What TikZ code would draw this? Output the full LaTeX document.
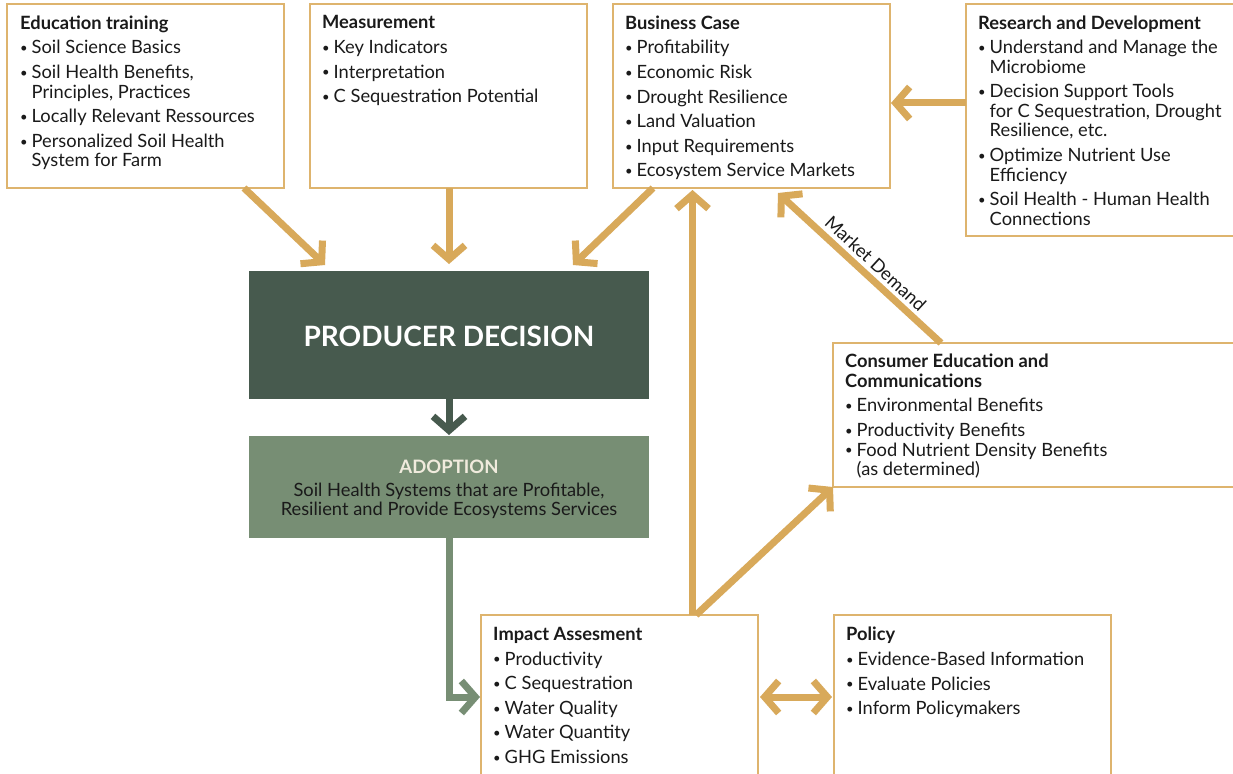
\documentclass[tikz,border=0pt]{standalone}
\usepackage{fontspec}
\setmainfont{Lato}
\usetikzlibrary{arrows.meta,calc}
\definecolor{tanc}{HTML}{D8A95A}
\definecolor{boxline}{HTML}{DEB46E}
\definecolor{darkgreen}{HTML}{475A4E}
\definecolor{midgreen}{HTML}{778E74}
\definecolor{ink}{HTML}{1A1A1A}
\definecolor{paleword}{HTML}{F0EBDD}
\newcommand{\blt}{\makebox[11.5pt][l]{\raisebox{1.2pt}{\fontsize{13}{13}\selectfont•}}}
\newcommand{\ind}{\hspace*{11.5pt}}
\newcommand{\gp}{\\[5.1pt]}
\tikzset{
  panel/.style={draw=boxline, line width=1.5pt, fill=white, anchor=north west, inner sep=0pt, outer sep=0pt},
  panetext/.style={anchor=north west, inner sep=0pt, align=left, font=\fontsize{18.3}{19.5}\selectfont, text=ink},
  block/.style={anchor=north west, inner sep=0pt, outer sep=0pt, draw=none},
  flow/.style={draw=tanc, line width=7pt, -{Straight Barb[length=14pt,width=32pt]}},
  twoflow/.style={draw=tanc, line width=7pt, {Straight Barb[length=14pt,width=32pt]}-{Straight Barb[length=14pt,width=32pt]}},
  gflow/.style={draw=darkgreen, line width=7pt, -{Straight Barb[length=14pt,width=32pt]}},
  mflow/.style={draw=midgreen, line width=7pt, line join=miter, -{Straight Barb[length=14pt,width=32pt]}},
}
\begin{document}
\begin{tikzpicture}[x=1pt,y=-1pt]
\clip (0,0) rectangle (1233,773);
\fill[white] (0,0) rectangle (1233,773);

% boxes
\node[panel, minimum width=277pt, minimum height=184pt] (edu) at (7,4) {};
\node[panel, minimum width=277pt, minimum height=184pt] (meas) at (310,4) {};
\node[panel, minimum width=277pt, minimum height=184pt] (bus) at (613,4) {};
\node[panel, minimum width=300pt, minimum height=232pt] (res) at (966,4) {};
\node[panel, minimum width=420pt, minimum height=144pt] (cons) at (833,343) {};
\node[panel, minimum width=277pt, minimum height=200pt] (imp) at (481,615) {};
\node[panel, minimum width=277pt, minimum height=200pt] (pol) at (834,615) {};
\node[block, fill=darkgreen, minimum width=400pt, minimum height=128pt] (prod) at (249,271) {};
\node[block, fill=midgreen, minimum width=400pt, minimum height=102pt] (adopt) at (249,436) {};

% box texts
\node[panetext] (edut) at (20,15.5) {\textbf{Education training}\gp
\blt Soil Science Basics\gp
\blt Soil Health Benefits,\\ \ind Principles, Practices\gp
\blt Locally Relevant Ressources\gp
\blt Personalized Soil Health\\ \ind System for Farm};

\node[panetext] (meast) at (322,15.5) {\textbf{Measurement}\gp
\blt Key Indicators\gp
\blt Interpretation\gp
\blt C Sequestration Potential};

\node[panetext] (bust) at (625,15.5) {\textbf{Business Case}\gp
\blt Profitability\gp
\blt Economic Risk\gp
\blt Drought Resilience\gp
\blt Land Valuation\gp
\blt Input Requirements\gp
\blt Ecosystem Service Markets};

\node[panetext] (rest) at (978,15.5) {\textbf{Research and Development}\gp
\blt Understand and Manage the\\ \ind Microbiome\gp
\blt Decision Support Tools\\ \ind for C Sequestration, Drought\\ \ind Resilience, etc.\gp
\blt Optimize Nutrient Use\\ \ind Efficiency\gp
\blt Soil Health - Human Health\\ \ind Connections};

\node[panetext] (const) at (845,354) {\textbf{Consumer Education and}\\ \textbf{Communications}\gp
\blt Environmental Benefits\gp
\blt Productivity Benefits\\[0pt]
\blt Food Nutrient Density Benefits\\ \ind (as determined)};

\node[panetext] (impt) at (493,627) {\textbf{Impact Assesment}\gp
\blt Productivity\gp
\blt C Sequestration\gp
\blt Water Quality\gp
\blt Water Quantity\gp
\blt GHG Emissions};

\node[panetext] (polt) at (846,627) {\textbf{Policy}\gp
\blt Evidence-Based Information\gp
\blt Evaluate Policies\gp
\blt Inform Policymakers};

\node[text=white, font=\fontsize{28}{32}\selectfont\bfseries, inner sep=0pt] (prodt) at (449,336) {PRODUCER DECISION};
\node[text=paleword, font=\fontsize{18.5}{20}\selectfont\bfseries, inner sep=0pt] (adoptt) at (449,467) {ADOPTION};
\node[text=ink, font=\fontsize{18.3}{19.5}\selectfont, align=center, inner sep=0pt] (adoptb) at (449,501) {Soil Health Systems that are Profitable,\\ Resilient and Provide Ecosystems Services};

% connectors
\draw[flow] ($(edu.south west)+(237,0)$) -- ($(prod.north west)+(76,-6)$);
\draw[flow] ($(meas.south west)+(139,0)$) -- ($(prod.north west)+(200,-7)$);
\draw[flow] ($(bus.south west)+(40,0)$) -- ($(prod.north west)+(324,-6)$);
\draw[flow] ($(res.north west)+(0,99)$) -- ($(bus.north east)+(1,99)$);
\draw[flow] ($(imp.north west)+(211.5,0)$) -- ($(bus.south west)+(79.5,2)$);
\draw[flow] ($(imp.north west)+(215,0)$) -- (cons.south west);
\draw[flow] ($(cons.north west)+(108,0)$) -- node[pos=0.46, sloped, above=4pt, font=\fontsize{18.2}{19}\selectfont, text=ink, inner sep=0pt] (mdl) {Market Demand} ($(bus.south west)+(165,5)$);
\draw[twoflow] ($(imp.north east)+(2,82)$) -- ($(pol.north west)+(-2,82)$);
\draw[gflow] (prod.south) -- ($(adopt.north)+(0,-1)$);
\draw[mflow] ($(adopt.south west)+(200.5,0)$) |- ($(imp.north west)+(-1,82)$);
\end{tikzpicture}
\end{document}
